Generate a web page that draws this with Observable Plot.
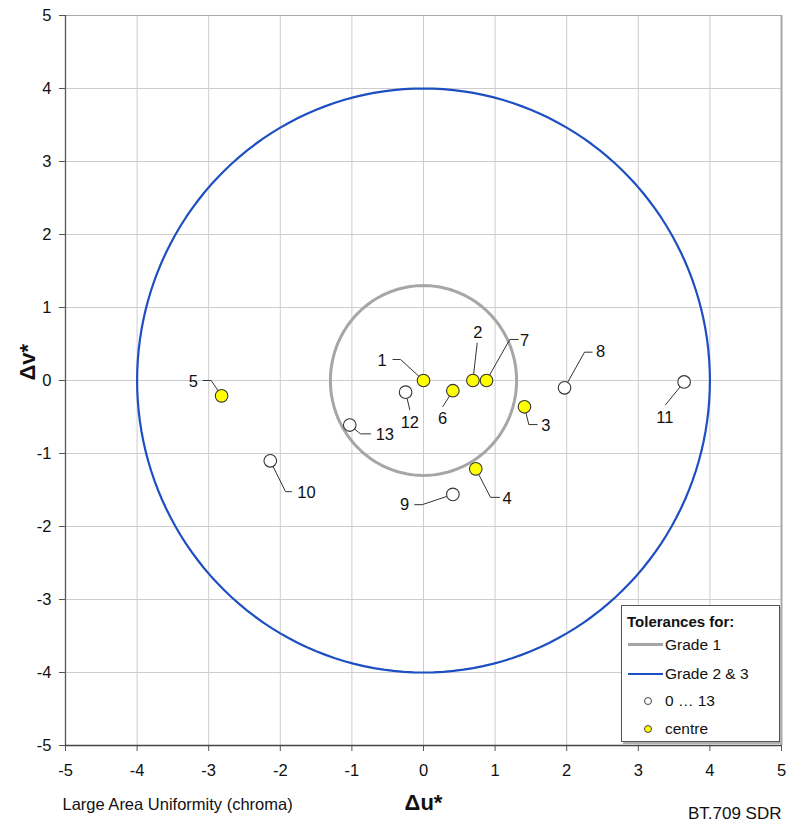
<!DOCTYPE html>
<html>
<head>
<meta charset="utf-8">
<script src="https://cdn.jsdelivr.net/npm/d3@7"></script>
<script src="https://cdn.jsdelivr.net/npm/@observablehq/plot@0.6"></script>
<style>
  html, body { margin: 0; padding: 0; background: #fff; }
  #wrap { position: relative; width: 789px; height: 829px; font-family: "Liberation Sans", Arial, sans-serif; }
  #legend { position: absolute; left: 621px; top: 605px; width: 159px; height: 137px;
    border: 1px solid #555; background: #fff; box-shadow: 2px 2px 0 #b0b0b0; box-sizing: border-box; }
  #legend .t { position: absolute; left: 5px; top: 7px; font-weight: bold; font-size: 15px; color: #111; }
  #legend .row { position: absolute; left: 6px; font-size: 15.5px; color: #111; height: 18px; line-height: 18px; }
  #legend .ln { position: absolute; left: 0; top: 8px; width: 35px; height: 0; }
  #legend .lab { position: absolute; left: 37px; top: 0; white-space: nowrap; }
  #legend .dt { position: absolute; left: 16px; top: 5px; width: 8px; height: 8px; border-radius: 50%; border: 1px solid #444; box-sizing: border-box; }
</style>
</head>
<body>
<div id="wrap"></div>
<script>
// ---- data ----
const pointId = [1, 2, 3, 4, 5, 6, 7, 8, 9, 10, 11, 12, 13];
const du = [0.00, 0.69, 1.41, 0.73, -2.82, 0.41, 0.88, 1.97, 0.41, -2.14, 3.64, -0.25, -1.03];
const dv = [0.00, 0.00, -0.36, -1.21, -0.21, -0.14, 0.00, -0.10, -1.56, -1.10, -0.02, -0.16, -0.61];
const kind = ["centre", "centre", "centre", "centre", "centre", "centre", "centre",
              "zone", "zone", "zone", "zone", "zone", "zone"];

// label anchors and leader-line elbows/ends (in Δu*, Δv* units)
const labelDu = [-0.577, 0.758, 1.708, 1.169, -3.216, 0.265, 1.411, 2.472, -0.265, -1.634, 3.37, -0.191, -0.54];
const labelDv = [0.274, 0.654, -0.617, -1.623, -0.01, -0.521, 0.549, 0.388, -1.701, -1.532, -0.503, -0.572, -0.745];
const elbowDu = [-0.321, 0.75, 1.471, 0.936, -2.965, 0.27, 1.205, 2.249, -0.018, -1.927, 3.38, -0.191, -0.88];
const elbowDv = [0.288, 0.512, -0.604, -1.601, 0.0, -0.357, 0.562, 0.388, -1.701, -1.523, -0.333, -0.402, -0.731];
const endDu   = [-0.427, 0.75, 1.588, 1.061, -3.077, 0.27, 1.323, 2.356, -0.122, -1.844, 3.38, -0.191, -0.74];
const endDv   = [0.288, 0.512, -0.604, -1.601, 0.0, -0.357, 0.562, 0.388, -1.701, -1.523, -0.333, -0.402, -0.731];

const toleranceName = ["Grade 1", "Grade 2 & 3"];
const toleranceRadius = [1.3, 4];

const ticks = [-5, -4, -3, -2, -1, 0, 1, 2, 3, 4, 5];

// ---- derived tables ----
const points = pointId.map((id, i) => ({id, u: du[i], v: dv[i], kind: kind[i]}));
const labels = pointId.map((id, i) => ({id: String(id), u: labelDu[i], v: labelDv[i]}));
const leaders = pointId.flatMap((id, i) => [
  {id, u: du[i], v: dv[i]},
  {id, u: elbowDu[i], v: elbowDv[i]},
  {id, u: endDu[i], v: endDv[i]}
]);
const circles = toleranceName.flatMap((name, k) =>
  d3.range(0, 361, 2).map(a => ({
    name,
    u: toleranceRadius[k] * Math.cos(a * Math.PI / 180),
    v: toleranceRadius[k] * Math.sin(a * Math.PI / 180)
  })));

const fmt = d => String(d);

const chart = Plot.plot({
  width: 789,
  height: 829,
  marginTop: 15,
  marginLeft: 65,
  marginRight: 8,
  marginBottom: 84,
  style: {fontFamily: "'Liberation Sans', Arial, sans-serif", fontSize: "16px", color: "#111", background: "#fff"},
  x: {domain: [-5, 5]},
  y: {domain: [-5, 5]},
  marks: [
    Plot.gridX(ticks, {stroke: "#cdcdcd", strokeOpacity: 1}),
    Plot.gridY(ticks, {stroke: "#cdcdcd", strokeOpacity: 1}),
    Plot.ruleX([5], {stroke: "#a8a8a8", strokeWidth: 2}),
    Plot.ruleY([5], {stroke: "#a8a8a8", strokeWidth: 1}),
    Plot.axisX({ticks, tickFormat: fmt, tickSize: 6, tickPadding: 13, fontSize: 16.5, label: null, stroke: "#555"}),
    Plot.axisY({ticks, tickFormat: fmt, tickSize: 6, tickPadding: 8, fontSize: 16.5, label: null, stroke: "#555"}),
    Plot.ruleX([-5], {stroke: "#555", strokeWidth: 1.3}),
    Plot.ruleY([-5], {stroke: "#444", strokeWidth: 1.6}),
    Plot.line(circles, {x: "u", y: "v", z: "name",
      stroke: d => d.name === "Grade 1" ? "#a6a6a8" : "#1e4fc2",
      strokeWidth: d => d.name === "Grade 1" ? 3 : 2.2}),
    Plot.line(leaders, {x: "u", y: "v", z: "id", stroke: "#333", strokeWidth: 1}),
    Plot.dot(points, {x: "u", y: "v", r: 6.3,
      fill: d => d.kind === "centre" ? "#ffff00" : "#ffffff",
      stroke: "#333", strokeWidth: 1.1}),
    Plot.text(labels, {x: "u", y: "v", text: "id", fontSize: 16.5, fill: "#111"}),
    Plot.text(["Δv*"], {frameAnchor: "left", dx: -38, rotate: -90, fontSize: 22, fontWeight: "bold", fill: "#111"}),
    Plot.text(["Δu*"], {frameAnchor: "bottom", dy: 64, fontSize: 22, fontWeight: "bold", fill: "#111"}),
    Plot.text(["Large Area Uniformity (chroma)"], {frameAnchor: "bottom-left", textAnchor: "start", dx: -3, dy: 64, fontSize: 16.5, fill: "#111"}),
    Plot.text(["BT.709 SDR"], {frameAnchor: "bottom-right", textAnchor: "end", dy: 73, fontSize: 17, fill: "#111"})
  ]
});

const wrap = document.getElementById("wrap");
wrap.appendChild(chart);

const legend = document.createElement("div");
legend.id = "legend";
legend.innerHTML = `
  <div class="t">Tolerances for:</div>
  <div class="row" style="top:30px"><div class="ln" style="border-top:3px solid #a6a6a8;top:7px"></div><span class="lab">Grade 1</span></div>
  <div class="row" style="top:59px"><div class="ln" style="border-top:2px solid #1e4fc2"></div><span class="lab">Grade 2 &amp; 3</span></div>
  <div class="row" style="top:86px"><div class="dt" style="background:#fff"></div><span class="lab">0 … 13</span></div>
  <div class="row" style="top:114px"><div class="dt" style="background:#ffff00"></div><span class="lab">centre</span></div>`;
wrap.appendChild(legend);
</script>
</body>
</html>
